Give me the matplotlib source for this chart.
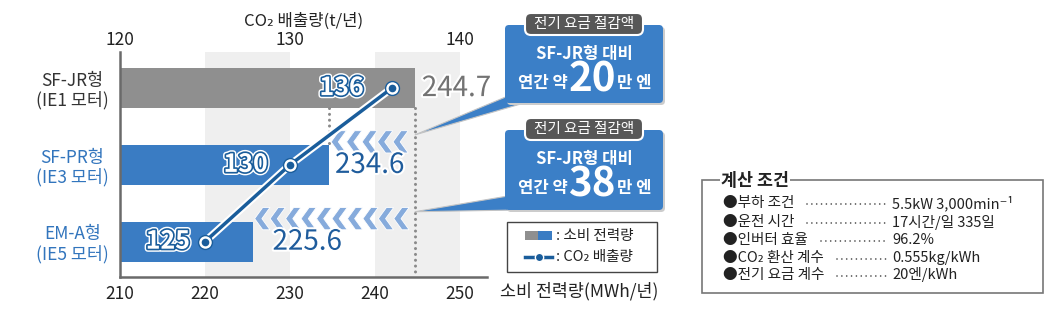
import matplotlib
matplotlib.use('Agg')
import matplotlib.pyplot as plt
import matplotlib.patheffects as pe
from matplotlib.patches import Polygon, FancyBboxPatch, Rectangle
from matplotlib.lines import Line2D
from matplotlib.transforms import Affine2D
import numpy as np

plt.rcParams['font.family'] = ['Noto Sans CJK KR', 'DejaVu Sans']

# data
models = ['SF-JR형\n(IE1 모터)', 'SF-PR형\n(IE3 모터)', 'EM-A형\n(IE5 모터)']
power_mwh = [244.7, 234.6, 225.6]
co2_t = [136, 130, 125]
power_ticks = [210, 220, 230, 240, 250]
co2_ticks = [120, 130, 140]
savings = ['20', '38']
cond_labels = ['부하 조건', '운전 시간', '인버터 효율', 'CO₂ 환산 계수', '전기 요금 계수']
cond_values = ['5.5kW 3,000min⁻¹', '17시간/일 335일', '96.2%', '0.555kg/kWh', '20엔/kWh']

GRAY_BAR = '#8f8f8f'
BLUE_BAR = '#3a7cc3'
BLUE_TXT = '#1f5c9c'
LINE = '#1a5d9b'
CHEV = '#86abdc'
BAND = '#efefef'
BOX = '#3b7fc7'


def co2_to_mwh(c):
    return 210 + (np.asarray(c) - 120) * 2


def mwh_to_co2(m):
    return 120 + (np.asarray(m) - 210) / 2


W, H = 1050, 312
fig = plt.figure(figsize=(W / 100, H / 100), dpi=100)
px = Affine2D().scale(1 / W, -1 / H).translate(0, 1) + fig.transFigure

ax = fig.add_axes([120 / W, 1 - 277 / H, 367 / W, 225 / H])
y = np.arange(len(models))
ax.set_xlim(210, 253.2)
ax.set_ylim(2.46, -0.47)
for a, b in [(220, 230), (240, 250)]:
    ax.axvspan(a, b, color=BAND, zorder=0, lw=0)

ax.barh(y, power_mwh, height=0.52, color=[GRAY_BAR, BLUE_BAR, BLUE_BAR], zorder=2)

# dotted guides
ref = power_mwh[0]
dot = dict(color='#8a8a8a', lw=2.2, ls=(0, (0.01, 1.9)), dash_capstyle='round', zorder=3)
ax.plot([ref, ref], [0.26, 2.46], **dot)
ax.plot([power_mwh[1]] * 2, [0.26, 0.74], **dot)

# chevrons
w, t, h, pitch = 0.95, 0.85, 0.145, 1.82
for i in (1, 2):
    x0 = power_mwh[i] + 0.25
    yc = i - 0.3
    while x0 + w + t <= ref - 0.5:
        pts = [(x0, yc), (x0 + w, yc - h), (x0 + w + t, yc - h), (x0 + t, yc),
               (x0 + w + t, yc + h), (x0 + w, yc + h)]
        ax.add_patch(Polygon(pts, closed=True, fc=CHEV, ec='white', lw=0.6, zorder=3))
        x0 += pitch

# bar value labels
val_off = [7, 6, 20]
val_col = ['#737373', BLUE_TXT, BLUE_TXT]
for i, v in enumerate(power_mwh):
    ax.annotate(f'{v}', (v, i), xytext=(val_off[i], 0), textcoords='offset pixels',
                ha='left', va='center', fontsize=20, color=val_col[i], zorder=4,
                path_effects=[pe.withStroke(linewidth=3, foreground='white')])

# CO2 line
xl = co2_to_mwh(co2_t)
ax.plot(xl, y, color=LINE, lw=2.5, zorder=5, solid_capstyle='round',
        path_effects=[pe.Stroke(linewidth=5.5, foreground='white'), pe.Normal()])
ax.plot(xl, y, 'o', ms=10, mfc='white', mec=LINE, mew=1.0, zorder=6)
ax.plot(xl, y, 'o', ms=5.5, mfc=LINE, mew=0, zorder=7)
lab_off = [-28, -22, -15]
for i, c in enumerate(co2_t):
    ax.annotate(str(c), (xl[i], i), xytext=(lab_off[i], 0), textcoords='offset pixels',
                ha='right', va='center', fontsize=18, fontweight='bold', color='white', zorder=8,
                path_effects=[pe.Stroke(linewidth=4.5, foreground='white'),
                              pe.Stroke(linewidth=2.4, foreground=LINE), pe.Normal()])

# axes styling
ax.set_xticks(power_ticks)
ax.tick_params(axis='x', length=0, labelsize=12.5, pad=6, labelcolor='#222')
ax.set_yticks(y, models)
ax.tick_params(axis='y', length=0, labelsize=12.5, pad=8)
for lbl, c in zip(ax.get_yticklabels(), ['#333333', '#3275bd', '#3275bd']):
    lbl.set_color(c)
    lbl.set_multialignment('center')
    lbl.set_linespacing(1.1)
for s in ['top', 'right']:
    ax.spines[s].set_visible(False)
for s in ['left', 'bottom']:
    ax.spines[s].set_color('#6a6a6a')
    ax.spines[s].set_linewidth(1.8)

sec = ax.secondary_xaxis('top', functions=(mwh_to_co2, co2_to_mwh))
sec.set_xticks(co2_ticks)
sec.tick_params(length=0, labelsize=12.5, pad=2, labelcolor='#222')
sec.spines['top'].set_visible(False)
sec.set_xlabel('CO₂ 배출량(t/년)', fontsize=12, labelpad=4, color='#222')

fig.text(500, 291, '소비 전력량(MWh/년)', transform=px, ha='left', va='center',
         fontsize=12.5, color='#222')

# callouts
boxes = [(25, 103), (130, 210)]
wedges = [[(508, 96), (524, 103)], [(508, 196), (518, 210)]]
inv = fig.transFigure.inverted()
for k, (top, bot) in enumerate(boxes):
    tf = inv.transform(ax.transData.transform((ref, k + 1 - 0.39)))
    tip = (tf[0] * W, (1 - tf[1]) * H)
    fig.add_artist(Polygon([tip] + wedges[k], closed=True, fc=BOX, ec='#c4c4c4', lw=0.8,
                           transform=px, zorder=1))
    fig.add_artist(FancyBboxPatch((507, top + 2), 158, bot - top,
                                  boxstyle='round,pad=0,rounding_size=4',
                                  fc='#cccccc', ec='none', transform=px, zorder=1.1))
    fig.add_artist(FancyBboxPatch((505, top), 158, bot - top,
                                  boxstyle='round,pad=0,rounding_size=4',
                                  fc=BOX, ec='none', transform=px, zorder=1.2))
    fig.add_artist(FancyBboxPatch((525, top - 12), 118, 22,
                                  boxstyle='round,pad=0,rounding_size=6',
                                  fc='#575757', ec='white', lw=1.5, transform=px, zorder=1.3))
    fig.text(584, top - 1, '전기 요금 절감액', transform=px, ha='center', va='center',
             color='white', fontsize=10.5)
    fig.text(584, top + 29, 'SF-JR형 대비', transform=px, ha='center', va='center',
             color='white', fontsize=12, fontweight='bold')
    fig.text(568, top + 58, '연간 약', transform=px, ha='right', va='center',
             color='white', fontsize=12, fontweight='bold')
    fig.text(592, top + 55, savings[k], transform=px, ha='center', va='center',
             color='white', fontsize=29, fontweight='bold')
    fig.text(617, top + 58, '만 엔', transform=px, ha='left', va='center',
             color='white', fontsize=12, fontweight='bold')

# legend
fig.add_artist(Rectangle((507, 222), 150, 50, fc='white', ec='#444444', lw=1, transform=px))
fig.add_artist(Rectangle((525, 231), 13, 9, fc=GRAY_BAR, ec='none', transform=px, zorder=2))
fig.add_artist(Rectangle((538, 231), 14, 9, fc=BLUE_BAR, ec='none', transform=px, zorder=2))
fig.text(556, 236, ': 소비 전력량', transform=px, ha='left', va='center', fontsize=10.5, color='#222')
fig.add_artist(Line2D([525, 552], [257, 257], color=LINE, lw=2.5, transform=px, zorder=2))
fig.add_artist(Line2D([538.5], [257], marker='o', ms=6, mfc=LINE, mec='white', mew=1,
                      transform=px, zorder=2.1))
fig.text(556, 257, ': CO₂ 배출량', transform=px, ha='left', va='center', fontsize=10.5, color='#222')

# conditions box
fig.add_artist(Rectangle((702, 180), 341, 113, fc='none', ec='#777777', lw=1.2, transform=px))
fig.text(721, 181, '계산 조건', transform=px, ha='left', va='center', fontsize=12.5,
         fontweight='bold', color='#222', bbox=dict(fc='white', ec='none', pad=1))
renderer = fig.canvas.get_renderer()
row_y = [203, 222, 240, 258, 275]
for lab, val, yy in zip(cond_labels, cond_values, row_y):
    tx = fig.text(723, yy, '●' + lab, transform=px, ha='left', va='center',
                  fontsize=10.5, color='#222')
    fig.text(892, yy, val, transform=px, ha='left', va='center', fontsize=10.5, color='#222')
    x_end = inv.transform((tx.get_window_extent(renderer).x1, 0))[0] * W
    fig.add_artist(Line2D([x_end + 13, 886], [yy + 1, yy + 1], color='#444', lw=1.2,
                          ls=(0, (0.01, 2.9)), dash_capstyle='round', transform=px))

fig.savefig('out.png', dpi=100)
